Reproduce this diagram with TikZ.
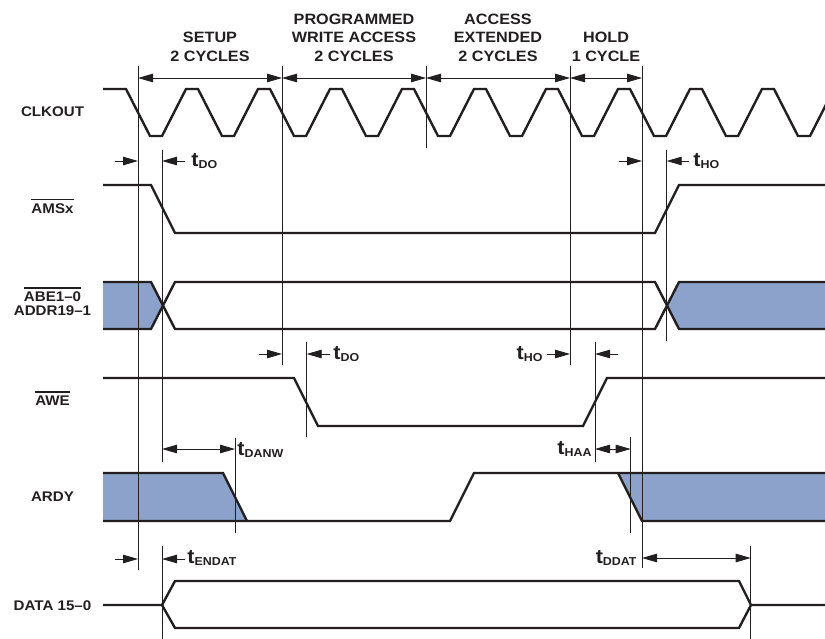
\documentclass[tikz,border=0pt]{standalone}
\usepackage{fontspec}
\setmainfont{Liberation Sans}[FakeStretch=1.08]
\usetikzlibrary{arrows.meta}

\definecolor{inkblack}{RGB}{35,31,32}
\definecolor{busblue}{RGB}{141,162,203}

\newsavebox{\ovbox}
\newcommand{\ovbar}[1]{\sbox{\ovbox}{#1}\rlap{\raisebox{\dimexpr\ht\ovbox+3.3pt\relax}{\rule{\wd\ovbox}{1.3pt}}}\usebox{\ovbox}}
\newcommand{\tdel}[1]{{\fontsize{20}{20}\selectfont t}\raisebox{-2pt}{\fontsize{11.5}{11.5}\selectfont #1}}

\tikzset{
  every picture/.style={line width=0.9pt},
  signal/.style={draw=inkblack, line width=2.4pt, line join=miter},
  guide/.style={draw=inkblack, line width=0.9pt},
  dimline/.style={draw=inkblack, line width=0.9pt, -{Triangle[length=15pt,width=8.5pt]}},
  dimboth/.style={draw=inkblack, line width=0.9pt, {Triangle[length=15pt,width=8.5pt]}-{Triangle[length=15pt,width=8.5pt]}},
  phaselbl/.style={font=\bfseries\fontsize{15}{18.7}\selectfont, align=center, inner sep=0pt, anchor=south, text=inkblack},
  siglbl/.style={font=\bfseries\fontsize{14}{14}\selectfont, inner sep=0pt, anchor=base, text=inkblack},
  tlbl/.style={font=\bfseries, inner sep=0pt, anchor=base west, text=inkblack},
}

\begin{document}
\begin{tikzpicture}[x=1pt,y=1pt,yscale=-1]
	\useasboundingbox (0,0) rectangle (825,639);

	%Bus fills
	\fill[busblue] (103,282) -- (151,282) -- (163,305.5) -- (151,329) -- (103,329) -- cycle;
	\fill[busblue] (667,305.5) -- (679,282) -- (825,282) -- (825,329) -- (679,329) -- cycle;
	\fill[busblue] (103,473) -- (223,473) -- (247,521) -- (103,521) -- cycle;
	\fill[busblue] (618,473) -- (825,473) -- (825,521) -- (642,521) -- cycle;

	%Guide lines
	\foreach \gx/\ya/\yb in {138/66/570, 162/150/462, 162/546/639, 282/66/365, 306.7/342/437,
	    235/438/533, 426/66/148, 570/66/365, 595/342/462, 630.7/437/533, 642/66/568,
	    666.7/150/341, 750.7/546/639}
	  \draw[guide] (\gx,\ya) -- (\gx,\yb);

	%Clock
	\begin{scope}
	\clip (0,0) rectangle (825,639);
	\draw[signal] (103,89) \foreach \k in {0,...,9} { -- ({126+72*\k},89) -- ({150+72*\k},136) -- ({162+72*\k},136) -- ({186+72*\k},89) };
	\end{scope}

	%Signals
	\draw[signal] (103,185) -- (151,185) -- (175,233) -- (655,233) -- (679,185) -- (825,185);
	\draw[signal] (103,282) -- (151,282) -- (175,329) -- (655,329) -- (679,282) -- (825,282);
	\draw[signal] (103,329) -- (151,329) -- (175,282) -- (655,282) -- (679,329) -- (825,329);
	\draw[signal] (103,378) -- (294,378) -- (318,426) -- (583,426) -- (607,378) -- (825,378);
	\draw[signal] (103,521) -- (450,521) -- (474,473) -- (825,473);
	\draw[signal] (103,473) -- (223,473) -- (247,521);
	\draw[signal] (618,473) -- (642,521) -- (825,521);
	\draw[signal] (103,605) -- (162,605) -- (175,581) -- (739,581) -- (751,605) -- (825,605);
	\draw[signal] (162,605) -- (175,628) -- (739,628) -- (751,605);

	%Phase arrows
	\coordinate (ph0) at (138,78);
	\coordinate (ph1) at (282,78);
	\coordinate (ph2) at (426,78);
	\coordinate (ph3) at (570,78);
	\coordinate (ph4) at (642,78);
	\draw[dimboth] (ph0) -- (ph1);
	\draw[dimboth] (ph1) -- (ph2);
	\draw[dimboth] (ph2) -- (ph3);
	\draw[dimboth] (ph3) -- (ph4);

	%Timing arrows
	\foreach \xa/\xb/\yy in {115/138/161, 185/162/161, 619/642/161, 689/666.7/161,
	    259/282/354, 330/306.7/354, 547/570/354, 618/595/354, 115/138/559, 185/162/559}
	  \draw[dimline] (\xa,\yy) -- (\xb,\yy);
	\draw[dimboth] (162,449) -- (235,449);
	\draw[dimboth] (595,449) -- (630.7,449);
	\draw[dimboth] (642,558) -- (750.7,558);

	% Text Node
	\node[phaselbl] (setup) at (210,62) {SETUP\\2 CYCLES};
	\node[phaselbl] (write) at (354,62) {PROGRAMMED\\WRITE ACCESS\\2 CYCLES};
	\node[phaselbl] (extend) at (498,62) {ACCESS\\EXTENDED\\2 CYCLES};
	\node[phaselbl] (hold) at (606,62) {HOLD\\1 CYCLE};
	% Text Node
	\node[siglbl] (clkout) at (52.5,117) {CLKOUT};
	\node[siglbl] (amsx) at (52.5,213.3) {\ovbar{AMSx}};
	\node[siglbl] (abe) at (52.5,301.7) {\ovbar{ABE1–0}};
	\node[siglbl] (addr) at (52.5,315.7) {ADDR19–1};
	\node[siglbl] (awe) at (52.5,405.7) {\ovbar{AWE}};
	\node[siglbl] (ardy) at (52.5,501) {ARDY};
	\node[siglbl] (data) at (52.5,610) {DATA 15–0};
	% Text Node
	\node[tlbl] (tdo1) at (191,166.5) {\tdel{DO}};
	\node[tlbl] (tho1) at (693,166.5) {\tdel{HO}};
	\node[tlbl] (tdo2) at (333,359.3) {\tdel{DO}};
	\node[tlbl, anchor=base east] (tho2) at (543,359.3) {\tdel{HO}};
	\node[tlbl] (tdanw) at (237,455) {\tdel{DANW}};
	\node[tlbl, anchor=base east] (thaa) at (592,454) {\tdel{HAA}};
	\node[tlbl] (tendat) at (187,563) {\tdel{ENDAT}};
	\node[tlbl, anchor=base east] (tddat) at (637,563) {\tdel{DDAT}};

\end{tikzpicture}
\end{document}
